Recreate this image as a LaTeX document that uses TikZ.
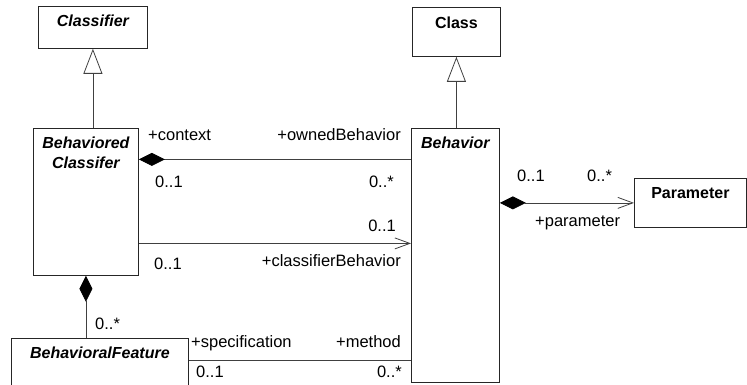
\documentclass[tikz,border=0pt]{standalone}
\usepackage{fontspec}
\setmainfont{Liberation Sans}
\usetikzlibrary{arrows.meta,positioning}
\tikzset{
  classbox/.style={draw=black!85, line width=0.8pt, anchor=north west, inner sep=0pt},
  classname/.style={font=\fontsize{16}{20}\selectfont\bfseries\itshape, inner sep=0pt, align=center},
  rolelabel/.style={font=\fontsize{16.5}{18}\selectfont, inner sep=0pt},
  conn/.style={draw=black!75, line width=0.8pt},
  inherit/.style={conn, -{Triangle[open, length=25pt, width=19pt]}},
  compos/.style={conn, {Diamond[length=26pt, width=13pt, color=black, fill=black]}-},
  navig/.style={conn, -{Straight Barb[length=15pt, width=11pt]}},
}
\begin{document}
\begin{tikzpicture}[x=1pt,y=-1pt]
    \clip (0,0) rectangle (747,385);
    % classes
    \node[classbox, minimum width=109pt, minimum height=42pt] (cfr) at (38,6) {};
    \node[classname, below=9pt of cfr.north] (cfrname) {Classifier};
    \node[classbox, minimum width=88pt, minimum height=49pt] (cls) at (412,7) {};
    \node[classname, below=10pt of cls.north] (clsname) {\upshape Class};
    \node[classbox, minimum width=105pt, minimum height=147pt] (bcl) at (33,128) {};
    \node[classname, below=9pt of bcl.north] (bclname) {Behaviored\\Classifer};
    \node[classbox, minimum width=88pt, minimum height=254pt] (beh) at (411,128) {};
    \node[classname, below=9pt of beh.north] (behname) {Behavior};
    \node[classbox, minimum width=112pt, minimum height=49pt] (par) at (634,178) {};
    \node[classname, below=9pt of par.north] (parname) {\upshape Parameter};
    \node[classbox, minimum width=177pt, minimum height=57pt] (bfe) at (11,338) {};
    \node[classname, below=9pt of bfe.north] (bfename) {BehavioralFeature};

    % generalizations
    \draw[inherit] (cfr.south |- bcl.north) -- (cfr.south);
    \draw[inherit] (cls.south |- beh.north) -- (cls.south);

    % associations
    \draw[compos] ([yshift=42.5pt]bcl.east) -- ([yshift=42.5pt]bcl.east -| beh.west);
    \draw[navig] ([yshift=-41.5pt]bcl.east) -- ([yshift=-41.5pt]bcl.east -| beh.west);
    \draw[conn, {Diamond[length=26pt, width=13pt, color=black, fill=black]}-{Straight Barb[length=15pt, width=11pt]}] (beh.east |- par.west) -- (par.west);
    \draw[compos] (bcl.south) -- (bcl.south |- bfe.north);
    \draw[conn] ([yshift=-22pt]bfe.north east) -- ([yshift=-22pt]bfe.north east -| beh.west);

    % role names and multiplicities
    \node[rolelabel, anchor=base west] (ctx) at (148,141) {+context};
    \node[rolelabel, anchor=base east] (owned) at (401,141) {+ownedBehavior};
    \node[rolelabel, anchor=base west] (ctxm) at (155,187) {0..1};
    \node[rolelabel, anchor=base east] (ownedm) at (394,187) {0..*};
    \node[rolelabel, anchor=base east] (cbhm) at (396,231) {0..1};
    \node[rolelabel, anchor=base east] (cbh) at (401,266) {+classifierBehavior};
    \node[rolelabel, anchor=base west] (cbhsrc) at (154,269) {0..1};
    \node[rolelabel, anchor=base west] (parsrc) at (517,181) {0..1};
    \node[rolelabel, anchor=base west] (parm) at (587,181) {0..*};
    \node[rolelabel, anchor=base west] (parrole) at (535,226) {+parameter};
    \node[rolelabel, anchor=base west] (bfem) at (95,329) {0..*};
    \node[rolelabel, anchor=base west] (spec) at (191,347) {+specification};
    \node[rolelabel, anchor=base east] (meth) at (401,347) {+method};
    \node[rolelabel, anchor=base west] (specm) at (196,377) {0..1};
    \node[rolelabel, anchor=base east] (methm) at (402,377) {0..*};
\end{tikzpicture}
\end{document}
